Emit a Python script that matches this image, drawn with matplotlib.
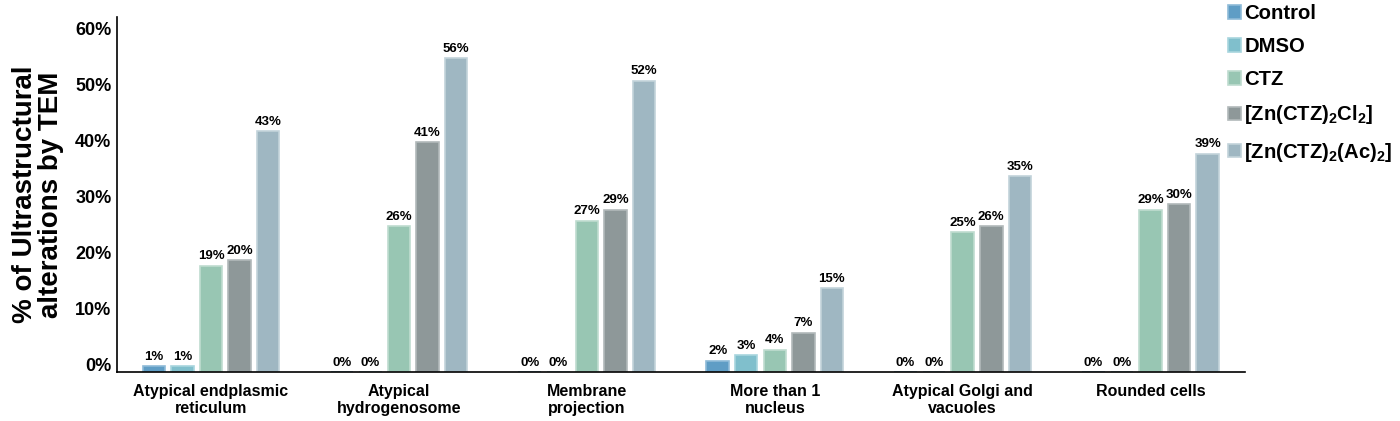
import matplotlib.pyplot as plt
import matplotlib.transforms as mtransforms
import numpy as np

plt.rcParams['font.family'] = ['Liberation Sans', 'DejaVu Sans']
plt.rcParams['font.weight'] = 'bold'
plt.rcParams['mathtext.fontset'] = 'custom'
plt.rcParams['mathtext.rm'] = 'Liberation Sans:bold'
plt.rcParams['mathtext.it'] = 'Liberation Sans:bold'
plt.rcParams['mathtext.bf'] = 'Liberation Sans:bold'

categories = ['Atypical endplasmic\nreticulum', 'Atypical\nhydrogenosome',
              'Membrane\nprojection', 'More than 1\nnucleus',
              'Atypical Golgi and\nvacuoles', 'Rounded cells']
series_names = ['Control', 'DMSO', 'CTZ', r'[Zn(CTZ)$_2$Cl$_2$]', r'[Zn(CTZ)$_2$(Ac)$_2$]']
control = [1, 0, 0, 2, 0, 0]
dmso = [1, 0, 0, 3, 0, 0]
ctz = [19, 26, 27, 4, 25, 29]
zn_cl2 = [20, 41, 29, 7, 26, 30]
zn_ac2 = [43, 56, 52, 15, 35, 39]
yticks = [0, 10, 20, 30, 40, 50, 60]

colors = ['#5f9dc5', '#80bfcc', '#98c6b3', '#8e9899', '#9fb7c2']
edges = ['#8fbbd8', '#a8d5de', '#bfdccf', '#b2b9ba', '#c2d3da']

fig = plt.figure(figsize=(14, 4.21), dpi=100)
ax = fig.add_axes([0.0836, 0.1164, 0.8054, 0.8436])

x = np.arange(len(categories))
width = 0.12
step = 0.152
all_series = [control, dmso, ctz, zn_cl2, zn_ac2]
for i, vals in enumerate(all_series):
    pos = x + (i - 2) * step
    bars = ax.bar(pos, vals, width, color=colors[i], edgecolor=edges[i],
                  linewidth=1.2, label=series_names[i])
    for b, v in zip(bars, vals):
        ax.text(b.get_x() + b.get_width() / 2, v + 0.6, f'{v}%',
                ha='center', va='bottom', fontsize=9.5, fontweight='bold')

ax.set_xlim(-0.5, 5.5)
ax.set_ylim(0, 63.4)
ax.set_yticks(yticks)
ax.set_yticklabels([f'{t}%' for t in yticks], fontsize=13, fontweight='bold')
ax.set_xticks(x)
ax.set_xticklabels(categories, fontsize=11.5, fontweight='bold', linespacing=1.15)
ax.tick_params(axis='both', length=0)
ax.tick_params(axis='x', pad=9)
ax.tick_params(axis='y', pad=4)
offset = mtransforms.ScaledTranslation(0, 7 / 100, fig.dpi_scale_trans)
for lab in ax.get_yticklabels():
    lab.set_transform(lab.get_transform() + offset)

ax.spines['top'].set_visible(False)
ax.spines['right'].set_visible(False)
ax.spines['left'].set_linewidth(1.2)
ax.spines['bottom'].set_linewidth(1.2)

ax.set_ylabel('% of Ultrastructural\nalterations by TEM', fontsize=20,
              fontweight='bold', linespacing=1.0, labelpad=8)

fig.legend(loc='upper left', bbox_to_anchor=(0.8715, 1.01), frameon=False,
           fontsize=14.6, handlelength=0.65, handleheight=0.65,
           handletextpad=0.15, labelspacing=0.7, borderaxespad=0)

plt.savefig('out.png', dpi=100)
